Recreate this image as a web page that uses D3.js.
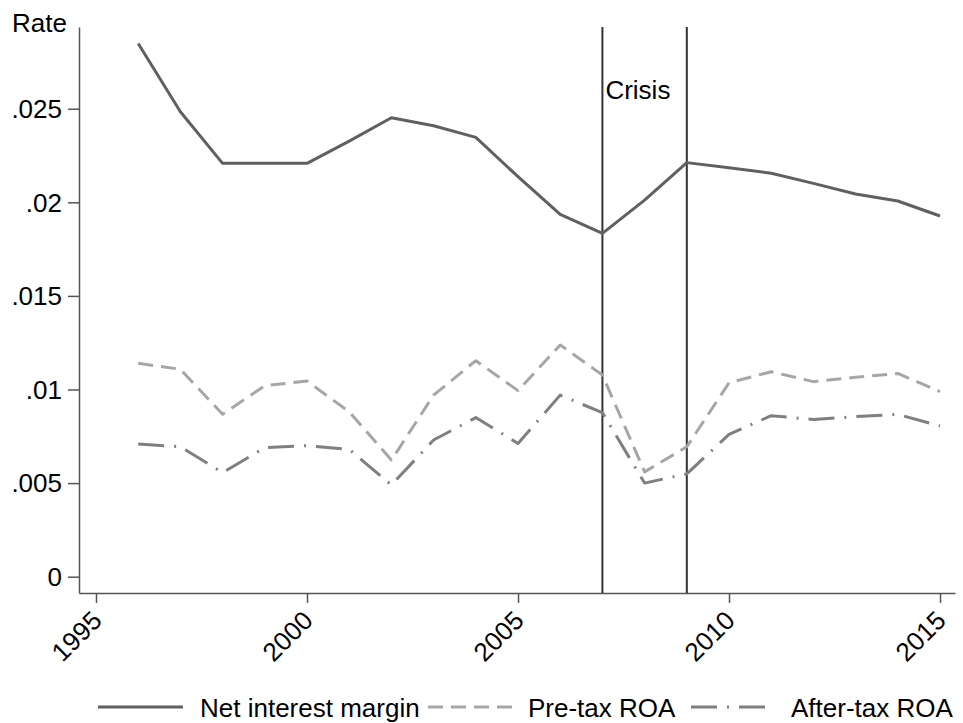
<!DOCTYPE html>
<html><head><meta charset="utf-8">
<script src="https://cdn.jsdelivr.net/npm/d3@7"></script>
<style>
body{margin:0;background:#fff;}
text{font-family:"Liberation Sans",Arial,sans-serif;fill:#000;}
</style></head>
<body>
<svg id="c" width="963" height="723"></svg>
<script>
const years = [1996,1997,1998,1999,2000,2001,2002,2003,2004,2005,2006,2007,2008,2009,2010,2011,2012,2013,2014,2015];
const netInterestMargin = [0.02848,0.02484,0.02208,0.02208,0.02208,0.02327,0.02452,0.02409,0.02347,0.02137,0.01936,0.01834,0.02012,0.02212,0.02185,0.02155,0.02101,0.02044,0.02007,0.01927];
const preTaxROA = [0.0114,0.01108,0.00868,0.0102,0.01045,0.00881,0.00623,0.0097,0.01154,0.00994,0.01238,0.01077,0.0056,0.00694,0.01036,0.01095,0.01042,0.01065,0.01086,0.00988];
const afterTaxROA = [0.00709,0.00694,0.00556,0.00689,0.0070,0.0068,0.0049,0.0073,0.0085,0.00712,0.0097,0.00876,0.0050,0.00549,0.0076,0.0086,0.0084,0.00855,0.00867,0.00805];
const xTicks = [1995,2000,2005,2010,2015];
const yTicks = [0,0.005,0.01,0.015,0.02,0.025];
const yTickLabels = ["0",".005",".01",".015",".02",".025"];
const crisisYears = [2007,2009];
const seriesNames = ["Net interest margin","Pre-tax ROA","After-tax ROA"];

const svg = d3.select("#c");
const L=79, R=955, T=27, B=593;
const x = d3.scaleLinear().domain([1994.597,2015.355]).range([L,R]);
const y = d3.scaleLinear().domain([-0.000871,0.029365]).range([B,T]);

const axisColor="#555";
// y axis
const ya = svg.append("g").attr("transform",`translate(${L},0)`)
  .call(d3.axisLeft(y).tickValues(yTicks).tickFormat((d,i)=>yTickLabels[i]).tickSize(11).tickPadding(6).tickSizeOuter(0));
ya.select(".domain").attr("stroke",axisColor).attr("stroke-width",1.5);
ya.selectAll(".tick line").attr("stroke",axisColor).attr("stroke-width",1.5);
ya.selectAll(".tick text").attr("font-size",26).attr("font-family","Liberation Sans, Arial, sans-serif").attr("fill","#000").attr("dy","0.34em");

// x axis
const xa = svg.append("g").attr("transform",`translate(0,${B})`)
  .call(d3.axisBottom(x).tickValues(xTicks).tickFormat(d3.format("d")).tickSize(10).tickSizeOuter(0));
xa.select(".domain").attr("stroke",axisColor).attr("stroke-width",1.5);
xa.selectAll(".tick line").attr("stroke",axisColor).attr("stroke-width",1.5);
xa.selectAll(".tick text").attr("font-size",26).attr("font-family","Liberation Sans, Arial, sans-serif").attr("fill","#000")
  .attr("text-anchor","end").attr("y",0).attr("dy",0)
  .attr("transform","translate(7,29) rotate(-45)");

// y title
svg.append("text").attr("x",12).attr("y",32).attr("font-size",26).text("Rate");

// crisis lines
svg.selectAll(".crisis").data(crisisYears).enter().append("line")
  .attr("x1",d=>x(d)).attr("x2",d=>x(d)).attr("y1",T).attr("y2",B)
  .attr("stroke","#333").attr("stroke-width",2);
svg.append("text").attr("x",x(crisisYears[0])+3).attr("y",99).attr("font-size",26).text("Crisis");

const styles = [
  {data:netInterestMargin, color:"#606060", dash:null, w:3},
  {data:preTaxROA, color:"#a6a6a6", dash:"15,8", w:3},
  {data:afterTaxROA, color:"#7f7f7f", dash:"26,10,2,10", w:3}
];
const line = d3.line().x((d,i)=>x(years[i])).y(d=>y(d));
styles.forEach(s=>{
  svg.append("path").datum(s.data).attr("d",line).attr("fill","none")
    .attr("stroke",s.color).attr("stroke-width",s.w).attr("stroke-linejoin","round")
    .attr("stroke-dasharray",s.dash);
});

// legend
const legendPos = [{x1:98,x2:183,tx:200},{x1:428,x2:512,tx:528},{x1:691,x2:769,tx:791}];
legendPos.forEach((p,i)=>{
  svg.append("line").attr("x1",p.x1).attr("x2",p.x2).attr("y1",707).attr("y2",707)
    .attr("stroke",styles[i].color).attr("stroke-width",3).attr("stroke-dasharray",styles[i].dash);
  svg.append("text").attr("x",p.tx).attr("y",717).attr("font-size",26).text(seriesNames[i]);
});
</script>
</body></html>
